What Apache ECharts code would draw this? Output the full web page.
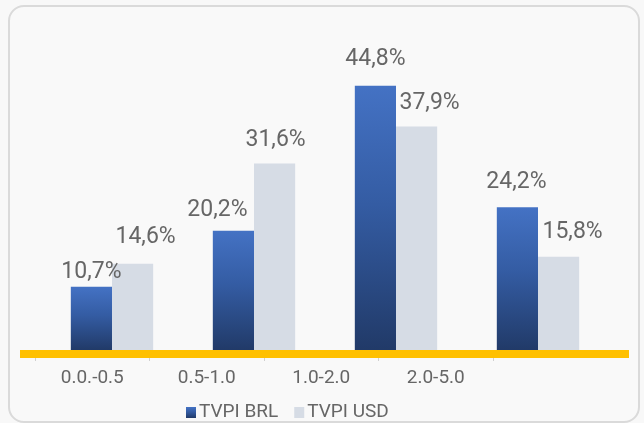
<!DOCTYPE html>
<html>
<head>
<meta charset="utf-8">
<script src="https://cdn.jsdelivr.net/npm/echarts@6/dist/echarts.min.js"></script>
<style>
  html, body { margin: 0; padding: 0; background: #f8f8f8; }
  #frame {
    position: absolute; left: 8px; top: 5px; width: 628px; height: 414px;
    border: 2.5px solid #dadada; border-radius: 16px; background: #f9f9f9;
  }
  #chart { position: absolute; left: 0; top: 0; width: 644px; height: 423px; }
</style>
</head>
<body>
<div id="frame"></div>
<div id="chart"></div>
<script>
// faixas de TVPI
var categories = ['0.0.-0.5', '0.5-1.0', '1.0-2.0', '2.0-5.0']
var seriesNames = ['TVPI BRL', 'TVPI USD']
var brlValues = [10.7, 20.2, 44.8, 24.2]
var usdValues = [14.6, 31.6, 37.9, 15.8]

// ajustes manuais dos rotulos (como arrastados no original)
var brlLabelShift = [[0, 7], [-16, 1], [0, -5], [-1, -3]]
var usdLabelShift = [[13, -3], [1, 0], [13, 0], [14, -1]]

var fontName = 'Roboto, "Liberation Sans", sans-serif'
var textColor = '#666666'

function pct(p) {
  return p.value.toFixed(1).replace('.', ',') + '%'
}

function withShift(values, shifts) {
  return values.map(function(v, i) {
    return { value: v, label: { offset: shifts[i] } }
  })
}

var chart = echarts.init(document.getElementById('chart'))
chart.setOption({
  backgroundColor: 'transparent',
  textStyle: { fontFamily: fontName },
  legend: {
    data: seriesNames,
    top: 398,
    left: 181,
    itemWidth: 10,
    itemHeight: 11,
    itemGap: 16,
    icon: 'rect',
    textStyle: { color: textColor, fontSize: 19, fontFamily: fontName, padding: [0, 0, 0, -2] }
  },
  grid: [
    { left: 41, width: 568, top: 55, height: 295 }, // barras
    { left: 35, width: 458, top: 55, height: 303 }, // rotulos do eixo
    { left: 20, width: 609, top: 55, height: 299 } // linha amarela
  ],
  xAxis: [
    {
      gridIndex: 0,
      type: 'category',
      data: categories,
      axisLine: { show: false },
      axisTick: { show: false },
      axisLabel: { show: false }
    },
    {
      gridIndex: 1,
      type: 'category',
      data: categories,
      axisLine: { show: false },
      axisTick: { show: true, length: 3, lineStyle: { color: '#d0d0d0' } },
      axisLabel: { color: textColor, fontSize: 19, margin: 11, fontFamily: fontName }
    },
    {
      gridIndex: 2,
      type: 'category',
      data: categories,
      axisLine: { show: true, lineStyle: { color: '#ffc000', width: 8, cap: 'butt' } },
      axisTick: { show: false },
      axisLabel: { show: false }
    }
  ],
  yAxis: [
    { gridIndex: 0, type: 'value', min: 0, max: 50, show: false },
    { gridIndex: 1, type: 'value', min: 0, max: 50, show: false },
    { gridIndex: 2, type: 'value', min: 0, max: 50, show: false }
  ],
  series: [
    {
      name: seriesNames[0],
      type: 'bar',
      xAxisIndex: 0,
      yAxisIndex: 0,
      data: withShift(brlValues, brlLabelShift),
      barGap: '0%',
      barCategoryGap: '42%',
      itemStyle: {
        color: new echarts.graphic.LinearGradient(0, 0, 0, 1, [
          { offset: 0, color: '#4472c4' },
          { offset: 0.45, color: '#345ca3' },
          { offset: 1, color: '#213a68' }
        ])
      },
      label: {
        show: true,
        position: 'top',
        distance: 10,
        color: textColor,
        fontSize: 23,
        fontFamily: fontName,
        formatter: pct
      }
    },
    {
      name: seriesNames[1],
      type: 'bar',
      xAxisIndex: 0,
      yAxisIndex: 0,
      data: withShift(usdValues, usdLabelShift),
      barGap: '0%',
      barCategoryGap: '42%',
      itemStyle: { color: '#d6dce5' },
      label: {
        show: true,
        position: 'top',
        distance: 12,
        color: textColor,
        fontSize: 23,
        fontFamily: fontName,
        formatter: pct
      }
    }
  ]
})
</script>
</body>
</html>
